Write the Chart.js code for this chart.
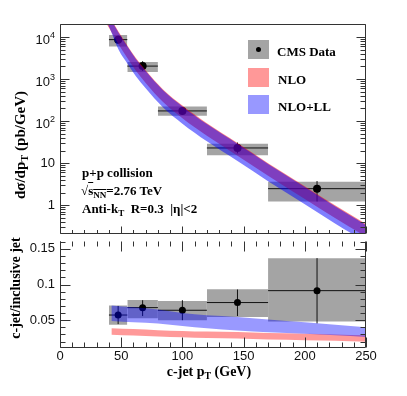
<!DOCTYPE html>
<html>
<head>
<meta charset="utf-8">
<title>c-jet cross section</title>
<script src="https://cdn.jsdelivr.net/npm/chart.js@4.4.1/dist/chart.umd.min.js"></script>
<style>
html, body { margin: 0; padding: 0; background: #fff; }
#page { position: relative; width: 407px; height: 396px; overflow: hidden; }
#page canvas { position: absolute; left: 0; }
.t { position: absolute; white-space: nowrap; font-family: "Liberation Serif", "Times New Roman", serif; font-weight: bold; color: #000; font-size: 13px; line-height: 13px; }
.sb { font-size: 70%; position: relative; top: 0.3em; }
.ov { text-decoration: overline; }
.box { position: absolute; width: 21px; height: 19px; }
.rot { transform: rotate(-90deg); text-align: center; }
</style>
</head>
<body>
<div id="page">
  <canvas id="cTop" width="407" height="238" style="top:0"></canvas>
  <canvas id="cBot" width="407" height="159" style="top:237px"></canvas>

  <!-- legend -->
  <div class="box" style="left:248px;top:40px;background:#a4a4a4"><div style="position:absolute;left:8px;top:7px;width:5px;height:5px;border-radius:50%;background:#000"></div></div>
  <div class="t" style="left:277px;top:45px">CMS Data</div>
  <div class="box" style="left:248px;top:68px;background:rgb(255,152,152)"></div>
  <div class="t" style="left:278px;top:73px">NLO</div>
  <div class="box" style="left:248px;top:95px;background:rgb(152,152,255)"></div>
  <div class="t" style="left:278px;top:100px">NLO+LL</div>

  <!-- labels -->
  <div class="t" style="left:82px;top:166px">p+p collision</div>
  <div class="t" style="left:81px;top:184px">√<span class="ov">s<span class="sb">NN</span></span>=2.76 TeV</div>
  <div class="t" style="left:82px;top:202px">Anti-k<span class="sb">T</span>&nbsp; R=0.3 &nbsp;|η|&lt;2</div>

  <!-- axis titles -->
  <div class="t rot" style="left:-79px;top:137px;width:200px;font-size:15px;line-height:15px">dσ/dp<span class="sb">T</span> (pb/GeV)</div>
  <div class="t rot" style="left:-84px;top:281px;width:200px;font-size:14px;line-height:14px">c-jet/inclusive jet</div>
  <div class="t" style="left:109px;top:365px;width:200px;text-align:center;font-size:14px;line-height:14px">c-jet p<span class="sb">T</span> (GeV)</div>
</div>
<script>
// bins of the c-jet measurement
var binLo = [40, 55, 80, 120, 170];
var binHi = [55, 80, 120, 170, 250];
var binPt = [47.5, 67.5, 100, 145, 210];

// c-jet cross section (pb/GeV)
var xsec = [8700, 2040, 175, 23, 2.47];
var xsecStatLo = [7000, 1560, 141, 17.1, 1.22];
var xsecStatHi = [10800, 2670, 217, 31, 3.75];
var xsecSysLo = [6000, 1480, 135, 15.5, 1.22];
var xsecSysHi = [11200, 2570, 224, 29, 3.63];

// theory bands, upper panel
var bandPt = [34, 40, 48, 55, 62, 70, 84, 100, 120, 145, 170, 200, 225, 250];
var nloHi = [67600, 33100, 13200, 6310, 3160, 1620, 575, 234, 89.1, 30.2, 10.0, 2.82, 0.977, 0.355];
var nloLo = [33900, 16600, 6610, 3160, 1580, 813, 288, 117, 44.7, 15.1, 5.01, 1.41, 0.490, 0.178];
var nllHi = [64600, 31600, 12600, 6030, 3020, 1550, 550, 224, 85.1, 28.8, 9.55, 2.69, 0.933, 0.339];
var nllLo = [39800, 17800, 4900, 2340, 1170, 603, 214, 87.1, 33.1, 11.2, 3.72, 1.05, 0.363, 0.132];

// c-jet / inclusive jet ratio
var ratio = [0.0572, 0.0676, 0.0639, 0.0747, 0.0914];
var ratioStatLo = [0.0445, 0.0558, 0.050, 0.0558, 0.0454];
var ratioStatHi = [0.070, 0.078, 0.078, 0.093, 0.137];
var ratioSysLo = [0.0436, 0.0527, 0.050, 0.0545, 0.048];
var ratioSysHi = [0.0707, 0.0784, 0.077, 0.0932, 0.1369];

// theory bands, lower panel
var ratioPt = [42, 60, 80, 100, 120, 145, 170, 200, 225, 250];
var nllRatioHi = [0.0707, 0.068, 0.0649, 0.060, 0.0568, 0.0545, 0.051, 0.047, 0.0435, 0.040];
var nllRatioLo = [0.049, 0.047, 0.0454, 0.042, 0.0387, 0.0356, 0.033, 0.031, 0.0287, 0.0265];
var nloRatioHi = [0.0387, 0.0375, 0.036, 0.035, 0.034, 0.0333, 0.032, 0.031, 0.030, 0.0288];
var nloRatioLo = [0.0297, 0.0285, 0.027, 0.026, 0.025, 0.0243, 0.023, 0.022, 0.021, 0.0198];

// axis labels
var xTickVals = [0, 50, 100, 150, 200, 250];
var yTopTickVals = [1, 10, 100, 1000, 10000];
var yTopTickBase = ['1', '10', '10', '10', '10'];
var yTopTickExp = ['', '', '2', '3', '4'];
var yBotTickVals = [0.05, 0.1, 0.15];
var yBotTickLabels = ['0.05', '0.1', '0.15'];

var boxGray = '#a4a4a4';
Chart.defaults.font.family = '"Liberation Sans", Arial, sans-serif';

function pts(xs, ys) {
    return xs.map(function (x, i) { return { x: x, y: ys[i] }; });
}

function band(xs, hi, lo, color, order) {
    return [
        { data: pts(xs, hi), showLine: true, fill: '+1', backgroundColor: color, borderColor: 'transparent', borderWidth: 0, pointRadius: 0, cubicInterpolationMode: 'monotone', order: order },
        { data: pts(xs, lo), showLine: true, fill: false, borderColor: 'transparent', borderWidth: 0, pointRadius: 0, cubicInterpolationMode: 'monotone', order: order }
    ];
}

function boxes(lo, hi, order) {
    var sets = [];
    for (var i = 0; i < binLo.length; i++) {
        sets.push({ data: [{ x: binLo[i], y: hi[i] }, { x: binHi[i], y: hi[i] }], showLine: true, fill: '+1', backgroundColor: boxGray, borderColor: 'transparent', borderWidth: 0, pointRadius: 0, order: order });
        sets.push({ data: [{ x: binLo[i], y: lo[i] }, { x: binHi[i], y: lo[i] }], showLine: true, fill: false, borderColor: 'transparent', borderWidth: 0, pointRadius: 0, order: order });
    }
    return sets;
}

function errBars(val, lo, hi, order) {
    var h = [], v = [];
    for (var i = 0; i < binLo.length; i++) {
        h.push({ x: binLo[i], y: val[i] }, { x: binHi[i], y: val[i] }, { x: binHi[i], y: null });
        v.push({ x: binPt[i], y: lo[i] }, { x: binPt[i], y: hi[i] }, { x: binPt[i], y: null });
    }
    var style = { showLine: true, spanGaps: false, fill: false, borderColor: '#111', borderWidth: 1, pointRadius: 0, order: order };
    return [Object.assign({ data: h }, style), Object.assign({ data: v }, style)];
}

function markers(val, r, order) {
    return { data: pts(binPt, val), showLine: false, pointRadius: r, pointBackgroundColor: '#000', pointBorderWidth: 0, order: order };
}

// ROOT-like frame with inward ticks
var frameTicks = {
    id: 'frameTicks',
    afterDraw: function (chart) {
        var o = chart.options.plugins.frameTicks;
        var ctx = chart.ctx, a = chart.chartArea;
        var xs = chart.scales.x, ys = chart.scales.y;
        var L = a.left + 0.5, R = a.right - 0.5, T = a.top + 0.5, B = a.bottom - 0.5;
        ctx.save();
        ctx.strokeStyle = '#333';
        ctx.lineWidth = 1;
        ctx.beginPath();
        ctx.moveTo(L, B); ctx.lineTo(L, T);
        if (o.topLine) { ctx.lineTo(R, T); } else { ctx.moveTo(R, T); }
        ctx.lineTo(R, B); ctx.lineTo(L, B);
        o.yTicks.forEach(function (t) {
            var p = Math.round(ys.getPixelForValue(t[0])) + 0.5;
            if (p < a.top || p > a.bottom) return;
            ctx.moveTo(L, p); ctx.lineTo(L + t[1], p);
            ctx.moveTo(R, p); ctx.lineTo(R - t[1], p);
        });
        o.xTicks.forEach(function (t) {
            var p = Math.round(xs.getPixelForValue(t[0])) + 0.5;
            if (o.up) { ctx.moveTo(p, B); ctx.lineTo(p, B - t[1] * o.up); }
            if (o.down) { ctx.moveTo(p, T); ctx.lineTo(p, T + t[1] * o.down); }
        });
        ctx.stroke();
        if (o.logLabels) {
            ctx.fillStyle = '#111';
            ctx.textAlign = 'right';
            ctx.textBaseline = 'middle';
            yTopTickVals.forEach(function (v, i) {
                var p = ys.getPixelForValue(v);
                var xr = a.left - 5;
                var ex = yTopTickExp[i];
                if (ex) {
                    ctx.font = '9px "Liberation Sans"';
                    ctx.fillText(ex, xr, p - 2);
                    var w = ctx.measureText(ex).width;
                    ctx.font = '13px "Liberation Sans"';
                    ctx.fillText(yTopTickBase[i], xr - w, p + 3);
                } else {
                    ctx.font = '13px "Liberation Sans"';
                    ctx.fillText(yTopTickBase[i], xr, p);
                }
            });
        }
        ctx.restore();
    }
};

var xTicks = [];
for (var xv = 0; xv <= 250; xv += 10) xTicks.push([xv, xv % 50 === 0 ? 1 : 0.5]);
function scaleTicks(list, major, minor) {
    return list.map(function (t) { return [t[0], t[1] === 1 ? major : minor]; });
}
var yTopTicks = [];
for (var e = -1; e <= 4; e++) {
    for (var k = 1; k <= 9; k++) yTopTicks.push([k * Math.pow(10, e), k === 1 ? 9 : 5]);
}
var yBotTicks = [];
for (var j = 1; j <= 16; j++) yBotTicks.push([j / 100, j % 5 === 0 ? 10 : 5]);

function fixY(s) { s.width = 60; s.paddingTop = 0; s.paddingBottom = 0; }

var topChart = new Chart(document.getElementById('cTop'), {
    type: 'scatter',
    data: {
        datasets: [].concat(
            boxes(xsecSysLo, xsecSysHi, 6),
            errBars(xsec, xsecStatLo, xsecStatHi, 5),
            [markers(xsec, 4, 4)],
            band(bandPt, nloHi, nloLo, 'rgba(255,0,0,0.5)', 3),
            band(bandPt, nllHi, nllLo, 'rgba(0,0,255,0.5)', 2)
        )
    },
    options: {
        responsive: false, animation: false, devicePixelRatio: 1, events: [],
        layout: { padding: { left: 0, right: 41, top: 24, bottom: 1 } },
        plugins: {
            legend: { display: false }, tooltip: { enabled: false },
            frameTicks: { topLine: true, up: 1, down: 0, xTicks: scaleTicks(xTicks, 7, 3.5), yTicks: yTopTicks, logLabels: true }
        },
        scales: {
            x: { type: 'linear', min: 0, max: 250, display: false },
            y: { type: 'logarithmic', min: 0.206, max: 20500, afterFit: fixY, ticks: { display: false }, grid: { display: false, drawTicks: false }, border: { display: false } }
        }
    },
    plugins: [frameTicks]
});

var botChart = new Chart(document.getElementById('cBot'), {
    type: 'scatter',
    data: {
        datasets: [].concat(
            boxes(ratioSysLo, ratioSysHi, 6),
            errBars(ratio, ratioStatLo, ratioStatHi, 5),
            [markers(ratio, 3.5, 4)],
            band(ratioPt, nloRatioHi, nloRatioLo, 'rgba(255,0,0,0.4)', 3),
            band(ratioPt, nllRatioHi, nllRatioLo, 'rgba(0,0,255,0.4)', 2)
        )
    },
    options: {
        responsive: false, animation: false, devicePixelRatio: 1, events: [],
        layout: { padding: { left: 0, right: 41, top: 0, bottom: 0 } },
        plugins: {
            legend: { display: false }, tooltip: { enabled: false },
            frameTicks: { topLine: false, up: 1, down: 1, xTicks: scaleTicks(xTicks, 10, 5), yTicks: yBotTicks }
        },
        scales: {
            x: {
                type: 'linear', min: 0, max: 250,
                afterBuildTicks: function (s) { s.ticks = xTickVals.map(function (v) { return { value: v }; }); },
                afterFit: function (s) { s.height = 48; s.paddingLeft = 0; s.paddingRight = 0; },
                ticks: { color: '#111', font: { size: 13 }, padding: 1, maxRotation: 0, autoSkip: false, callback: function (v) { return String(v); } },
                grid: { display: false, drawTicks: false }, border: { display: false }
            },
            y: {
                min: 0.011, max: 0.161,
                afterBuildTicks: function (s) { s.ticks = yBotTickVals.map(function (v) { return { value: v }; }); },
                afterFit: fixY,
                ticks: { color: '#111', font: { size: 13 }, padding: 5, autoSkip: false, callback: function (v) { return yBotTickLabels[yBotTickVals.indexOf(v)]; } },
                grid: { display: false, drawTicks: false }, border: { display: false }
            }
        }
    },
    plugins: [frameTicks]
});
</script>
</body>
</html>
